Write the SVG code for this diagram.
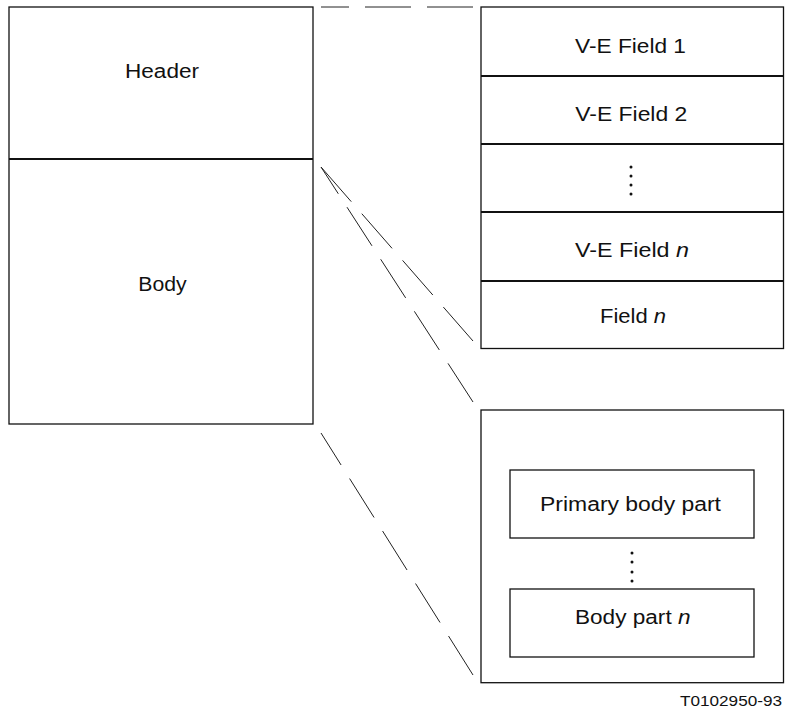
<svg xmlns="http://www.w3.org/2000/svg" width="787" height="713" viewBox="0 0 787 713">
<style>
  .box { fill: #fff; stroke: #111; stroke-width: 1.3; }
  .div { stroke: #111; stroke-width: 2; }
  .dash { stroke: #222; stroke-width: 1; fill: none; stroke-dasharray: 46 16; }
  .t { font-family: "Liberation Sans", Arial, sans-serif; font-size: 20px; fill: #111; }
  .s { font-size: 15px; }
  .dot { fill: #111; }
</style>
<rect width="787" height="713" fill="#fff"/>
<g id="message">
  <rect class="box" x="9" y="7" width="304" height="417"/>
  <line class="div" x1="9" y1="159" x2="313" y2="159"/>
  <text class="t" x="125" y="77.5" textLength="74" lengthAdjust="spacingAndGlyphs">Header</text>
  <text class="t" x="138.3" y="291" textLength="48.4" lengthAdjust="spacingAndGlyphs">Body</text>
</g>
<g id="header-fields">
  <rect class="box" x="481" y="7" width="302.5" height="341.5"/>
  <line class="div" x1="481" y1="76" x2="783.5" y2="76"/>
  <line class="div" x1="481" y1="144" x2="783.5" y2="144"/>
  <line class="div" x1="481" y1="212" x2="783.5" y2="212"/>
  <line class="div" x1="481" y1="281" x2="783.5" y2="281"/>
  <text class="t" x="575" y="52.7" textLength="111" lengthAdjust="spacingAndGlyphs">V-E Field 1</text>
  <text class="t" x="575.3" y="120.7" textLength="112" lengthAdjust="spacingAndGlyphs">V-E Field 2</text>
  <circle class="dot" cx="631" cy="167" r="1.5"/>
  <circle class="dot" cx="631" cy="176" r="1.5"/>
  <circle class="dot" cx="631" cy="185" r="1.5"/>
  <circle class="dot" cx="631" cy="194" r="1.5"/>
  <text class="t" x="575" y="257.3" textLength="114" lengthAdjust="spacingAndGlyphs">V-E Field <tspan font-style="italic">n</tspan></text>
  <text class="t" x="600" y="322.7" textLength="66" lengthAdjust="spacingAndGlyphs">Field <tspan font-style="italic">n</tspan></text>
</g>
<g id="body-parts">
  <rect class="box" x="481" y="410" width="302.5" height="272.7"/>
  <rect class="box" x="510" y="470" width="244" height="68"/>
  <rect class="box" x="510" y="589" width="244" height="68"/>
  <text class="t" x="540" y="511" textLength="181" lengthAdjust="spacingAndGlyphs">Primary body part</text>
  <circle class="dot" cx="632" cy="553" r="1.5"/>
  <circle class="dot" cx="632" cy="562" r="1.5"/>
  <circle class="dot" cx="632" cy="572" r="1.5"/>
  <circle class="dot" cx="632" cy="581" r="1.5"/>
  <text class="t" x="575" y="624" textLength="115.5" lengthAdjust="spacingAndGlyphs">Body part <tspan font-style="italic">n</tspan></text>
</g>
<g id="connectors">
  <line class="dash" x1="473" y1="7" x2="321" y2="7"/>
  <line class="dash" x1="321" y1="167" x2="473" y2="341"/>
  <line class="dash" x1="473" y1="402" x2="321" y2="167"/>
  <line class="dash" x1="473" y1="675" x2="321" y2="433"/>
</g>
<text class="t s" x="680" y="705.7" textLength="102" lengthAdjust="spacingAndGlyphs">T0102950-93</text>
</svg>
